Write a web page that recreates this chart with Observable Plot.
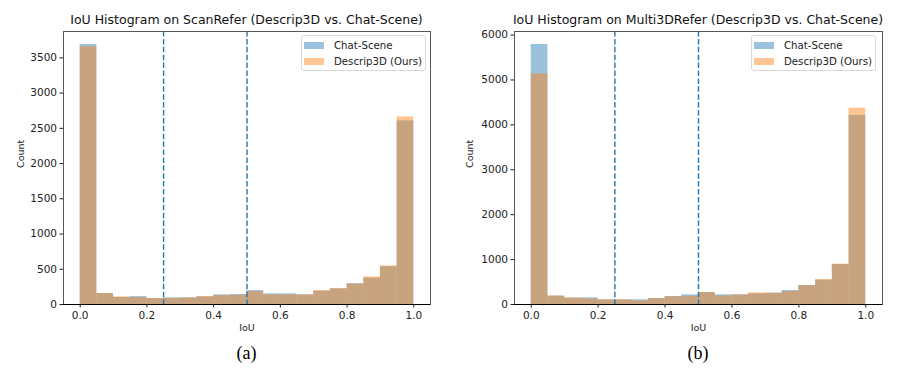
<!DOCTYPE html>
<html>
<head>
<meta charset="utf-8">
<script src="https://cdn.jsdelivr.net/npm/d3@7"></script>
<script src="https://cdn.jsdelivr.net/npm/@observablehq/plot@0.6"></script>
<style>
  html, body { margin: 0; padding: 0; background: #fff; }
  #root { position: relative; width: 897px; height: 370px; font-family: "DejaVu Sans", sans-serif; overflow: hidden; }
  .panel { position: absolute; top: 0; width: 448px; height: 370px; }
  .title { position: absolute; top: 12px; font-size: 12.5px; color: #111; white-space: nowrap; transform: translateX(-50%); }
  .caption { position: absolute; top: 343px; font-family: "Liberation Serif", "Times New Roman", serif; font-size: 18px; color: #000; transform: translateX(-50%); }
  .plotwrap { position: absolute; top: 25px; left: 0; }
  .legend { position: absolute; border: 1px solid #d8d8d8; border-radius: 3px; background: rgba(255,255,255,0.8); font-size: 10.2px; color: #222; padding: 2px 2px; box-sizing: border-box; white-space: nowrap; }
  .legend .row { display: flex; align-items: center; height: 15.5px; }
  .legend .sw { width: 20px; height: 7px; margin-right: 10px; flex: none; }
</style>
</head>
<body>
<div id="root"></div>
<script>
// Bin start values (bin width 0.05)
const binStarts = [0.00, 0.05, 0.10, 0.15, 0.20, 0.25, 0.30, 0.35, 0.40, 0.45,
                   0.50, 0.55, 0.60, 0.65, 0.70, 0.75, 0.80, 0.85, 0.90, 0.95];
const binWidth = 0.05;

// (a) ScanRefer counts
const scanChatScene = [3690, 156, 100, 113, 85, 94, 94, 108, 137, 141,
                       198, 151, 151, 137, 189, 222, 296, 373, 538, 2606];
const scanDescrip3D = [3660, 156, 108, 99, 85, 85, 94, 113, 127, 132,
                       184, 137, 137, 137, 198, 226, 289, 392, 547, 2663];

// (b) Multi3DRefer counts
const multiChatScene = [5790, 185, 141, 148, 104, 104, 104, 134, 178, 215,
                        265, 215, 215, 237, 252, 312, 423, 542, 890, 4209];
const multiDescrip3D = [5138, 193, 148, 126, 104, 104, 82, 134, 171, 185,
                        267, 193, 215, 260, 252, 289, 423, 556, 898, 4372];

const xTicks = [0.0, 0.2, 0.4, 0.6, 0.8, 1.0];
const yTicksA = [0, 500, 1000, 1500, 2000, 2500, 3000, 3500];
const yTicksB = [0, 1000, 2000, 3000, 4000, 5000, 6000];
const thresholds = [0.25, 0.5];

const seriesNames = ["Chat-Scene", "Descrip3D (Ours)"];
const titles = ["IoU Histogram on ScanRefer (Descrip3D vs. Chat-Scene)",
                "IoU Histogram on Multi3DRefer (Descrip3D vs. Chat-Scene)"];
const captions = ["(a)", "(b)"];

const BLUE = "#1f77b4", ORANGE = "#ff7f0e";

function table(chat, desc) {
  const rows = [];
  binStarts.forEach((b, i) => rows.push({x1: b, x2: b + binWidth, y: chat[i], s: seriesNames[0]}));
  binStarts.forEach((b, i) => rows.push({x1: b, x2: b + binWidth, y: desc[i], s: seriesNames[1]}));
  return rows;
}

function makePanel(cfg) {
  const panel = document.createElement("div");
  panel.className = "panel";
  panel.style.left = cfg.left + "px";

  const data = table(cfg.chat, cfg.desc);
  const yMax = Math.max(...cfg.chat, ...cfg.desc) * 1.05;

  const chart = Plot.plot({
    width: 448,
    height: 310,
    marginLeft: cfg.ml,
    marginRight: cfg.mr,
    marginTop: 6,
    marginBottom: 31,
    style: {fontFamily: "DejaVu Sans, sans-serif", background: "white", color: "#222"},
    x: {domain: [-0.05, 1.05]},
    y: {domain: [0, yMax]},
    marks: [
      Plot.rectY(data.filter(d => d.s === seriesNames[0]), {x1: "x1", x2: "x2", y: "y", fill: BLUE, fillOpacity: 0.45, inset: 0}),
      Plot.rectY(data.filter(d => d.s === seriesNames[1]), {x1: "x1", x2: "x2", y: "y", fill: ORANGE, fillOpacity: 0.45, inset: 0}),
      Plot.ruleX(thresholds, {stroke: BLUE, strokeWidth: 1.4, strokeDasharray: "5.5,2.4"}),
      Plot.frame({stroke: "#555", strokeWidth: 1}),
      Plot.ruleY([0], {stroke: "#000", strokeWidth: 1.2}),
      Plot.axisX({ticks: xTicks, tickFormat: d3.format(".1f"), tickSize: 3.5, fontSize: 10.5, label: null, tickPadding: 4}),
      Plot.axisY({ticks: cfg.yTicks, tickFormat: d => String(d), tickSize: 3.5, fontSize: 10.5, label: null, tickPadding: 3}),
      Plot.text(["Count"], {frameAnchor: "left", dx: -(cfg.ml - 20), rotate: -90, fontSize: 9.5, fill: "#222"}),
      Plot.text(["IoU"], {frameAnchor: "bottom", dy: 26, fontSize: 9.5, fill: "#222"})
    ]
  });
  const wrap = document.createElement("div");
  wrap.className = "plotwrap";
  wrap.appendChild(chart);
  panel.appendChild(wrap);

  const frameCenter = cfg.ml + (448 - cfg.ml - cfg.mr) / 2;

  const title = document.createElement("div");
  title.className = "title";
  title.style.left = frameCenter + "px";
  title.textContent = cfg.title;
  panel.appendChild(title);

  const cap = document.createElement("div");
  cap.className = "caption";
  cap.style.left = frameCenter + "px";
  cap.textContent = cfg.caption;
  panel.appendChild(cap);

  const leg = document.createElement("div");
  leg.className = "legend";
  leg.style.left = cfg.legLeft + "px";
  leg.style.top = "35px";
  leg.style.width = cfg.legWidth + "px";
  leg.style.height = "36px";
  [[seriesNames[0], "rgba(31,119,180,0.45)"], [seriesNames[1], "rgba(255,127,14,0.45)"]].forEach(([name, col]) => {
    const row = document.createElement("div");
    row.className = "row";
    const sw = document.createElement("span");
    sw.className = "sw";
    sw.style.background = col;
    const t = document.createElement("span");
    t.textContent = name;
    row.appendChild(sw);
    row.appendChild(t);
    leg.appendChild(row);
  });
  panel.appendChild(leg);
  return panel;
}

const root = document.getElementById("root");
root.appendChild(makePanel({left: 0, chat: scanChatScene, desc: scanDescrip3D, yTicks: yTicksA,
  ml: 63, mr: 18, title: titles[0], caption: captions[0], legLeft: 301, legWidth: 125}));
root.appendChild(makePanel({left: 449, chat: multiChatScene, desc: multiDescrip3D, yTicks: yTicksB,
  ml: 65, mr: 15, title: titles[1], caption: captions[1], legLeft: 302, legWidth: 125}));
</script>
</body>
</html>
